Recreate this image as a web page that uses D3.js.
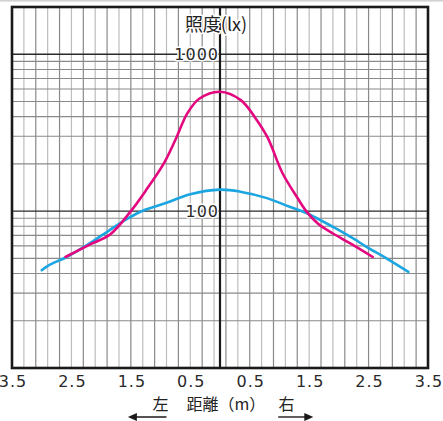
<!DOCTYPE html>
<html>
<head>
<meta charset="utf-8">
<script src="https://cdn.jsdelivr.net/npm/d3@7"></script>
<style>
    body { margin: 0; background: #fff; }
    .num { font-family: "DejaVu Sans", sans-serif; font-size: 16px; fill: #2a2a2a; letter-spacing: 1px; }
    .jp { font-family: "Noto Sans CJK JP", sans-serif; font-size: 16px; fill: #222; }
    .halo { paint-order: stroke; stroke: #fff; stroke-width: 3px; stroke-linejoin: round; }
</style>
</head>
<body>
<div id="chart"></div>
<script>
// distance (m, left negative) and illuminance (lx)
const pinkDist = [-2.6, -2.2, -1.85, -1.5, -1.25, -0.95, -0.75, -0.55, -0.35, 0, 0.35, 0.6, 0.8, 1.05, 1.3, 1.45, 1.65, 1.9, 2.2, 2.57];
const pinkLux  = [51, 61, 71, 100, 135, 200, 285, 420, 520, 577, 510, 390, 295, 175, 122, 100, 83, 72, 62, 51];

const blueDist = [-3.0, -2.89, -2.58, -2.2, -1.85, -1.57, -1.29, -0.9, -0.5, 0, 0.34, 0.79, 1.16, 1.46, 1.91, 2.24, 2.47, 2.8, 3.17];
const blueLux  = [42, 45, 51, 62, 76, 89, 101, 113, 128, 137, 133, 121, 107, 97, 79, 67, 59, 50, 41];

const xTicks = [-3.5, -2.5, -1.5, -0.5, 0.5, 1.5, 2.5, 3.5];
const yLabels = [100, 1000];

class LuxChart {
    constructor(_config) {
        this.config = {
            parentElement: _config.parentElement,
            containerWidth: _config.containerWidth || 443,
            containerHeight: _config.containerHeight || 421,
            margin: _config.margin || { top: 7, right: 15, bottom: 53, left: 12 }
        }
        this.initVis();
    }

    initVis() {
        let vis = this;

        vis.width = vis.config.containerWidth - vis.config.margin.left - vis.config.margin.right;
        vis.height = vis.config.containerHeight - vis.config.margin.top - vis.config.margin.bottom;

        vis.svg = d3.select(vis.config.parentElement).append('svg')
            .attr('width', vis.config.containerWidth)
            .attr('height', vis.config.containerHeight);

        // thin gray rule along the top of the page
        vis.svg.append('rect')
            .attr('x', 0).attr('y', 0)
            .attr('width', vis.config.containerWidth)
            .attr('height', 1.6)
            .attr('fill', '#d2d2d2');

        vis.xScale = d3.scaleLinear()
            .domain([-3.5, 3.5])
            .range([0, vis.width]);

        vis.yScale = d3.scaleLog()
            .domain([10, 2000])
            .range([vis.height, 0]);

        vis.chart = vis.svg.append('g')
            .attr('transform', `translate(${vis.config.margin.left},${vis.config.margin.top})`);

        vis.renderVis();
    }

    renderVis() {
        let vis = this;

        // vertical grid, every 0.2 m, alternating shade
        const vLines = d3.range(-33, 34, 2).map(d => d / 10);
        vis.chart.selectAll('.vgrid')
                .data(vLines)
            .join('line')
                .attr('class', 'vgrid')
                .attr('x1', d => vis.xScale(d))
                .attr('x2', d => vis.xScale(d))
                .attr('y1', 0)
                .attr('y2', vis.height)
                .attr('stroke', (d, i) => i % 2 ? '#8a8a8a' : '#bdbdbd')
                .attr('stroke-width', 1.2);

        // horizontal log grid
        const minor = d3.range(20, 100, 10).concat(d3.range(200, 1000, 100));
        vis.chart.selectAll('.hgrid')
                .data(minor)
            .join('line')
                .attr('class', 'hgrid')
                .attr('x1', 0)
                .attr('x2', vis.width)
                .attr('y1', d => vis.yScale(d))
                .attr('y2', d => vis.yScale(d))
                .attr('stroke', '#8a8a8a')
                .attr('stroke-width', 1.1);

        vis.chart.selectAll('.decade')
                .data(yLabels)
            .join('line')
                .attr('class', 'decade')
                .attr('x1', 0)
                .attr('x2', vis.width)
                .attr('y1', d => vis.yScale(d))
                .attr('y2', d => vis.yScale(d))
                .attr('stroke', '#2a2a2a')
                .attr('stroke-width', 1.4);

        // center axis
        vis.chart.append('line')
            .attr('x1', vis.xScale(0)).attr('x2', vis.xScale(0))
            .attr('y1', 0).attr('y2', vis.height)
            .attr('stroke', '#1a1a1a')
            .attr('stroke-width', 2.2);

        // curves
        const line = d3.line()
            .x(d => vis.xScale(d[0]))
            .y(d => vis.yScale(d[1]))
            .curve(d3.curveCatmullRom.alpha(0.5));

        vis.chart.append('path')
            .datum(d3.zip(blueDist, blueLux))
            .attr('fill', 'none')
            .attr('stroke', '#1ba6e2')
            .attr('stroke-width', 2.6)
            .attr('stroke-linecap', 'round')
            .attr('d', line);

        vis.chart.append('path')
            .datum(d3.zip(pinkDist, pinkLux))
            .attr('fill', 'none')
            .attr('stroke', '#e4087f')
            .attr('stroke-width', 2.6)
            .attr('stroke-linecap', 'round')
            .attr('d', line);

        // frame
        vis.chart.append('rect')
            .attr('x', 0).attr('y', 0)
            .attr('width', vis.width)
            .attr('height', vis.height)
            .attr('fill', 'none')
            .attr('stroke', '#1a1a1a')
            .attr('stroke-width', 2.6);

        // y labels on the center line
        vis.chart.selectAll('.ylabel')
                .data(yLabels)
            .join('text')
                .attr('class', 'ylabel num halo')
                .attr('x', vis.xScale(0) - 1)
                .attr('y', d => vis.yScale(d))
                .attr('dy', '0.36em')
                .attr('text-anchor', 'end')
                .text(d => d);

        vis.chart.append('text')
            .attr('class', 'jp halo')
            .attr('x', vis.xScale(0) - 4)
            .attr('y', 24)
            .attr('text-anchor', 'middle')
            .style('font-size', '18px')
            .text('照度(lx)');

        // x tick labels
        vis.chart.selectAll('.xlabel')
                .data(xTicks)
            .join('text')
                .attr('class', 'xlabel num')
                .attr('x', d => vis.xScale(d) + 1)
                .attr('y', vis.height + 19)
                .attr('text-anchor', 'middle')
                .text(d => Math.abs(d));

        // axis title with arrows
        const ty = vis.height + 42;
        vis.chart.append('text')
            .attr('class', 'jp')
            .attr('x', vis.xScale(-1.0))
            .attr('y', ty)
            .attr('text-anchor', 'middle')
            .text('左');
        vis.chart.append('text')
            .attr('class', 'jp')
            .attr('x', vis.xScale(0.1))
            .attr('y', ty)
            .attr('text-anchor', 'middle')
            .text('距離（m）');
        vis.chart.append('text')
            .attr('class', 'jp')
            .attr('x', vis.xScale(1.12))
            .attr('y', ty)
            .attr('text-anchor', 'middle')
            .text('右');

        const ay = vis.height + 49;
        const arrows = [[-0.9, -1.55], [0.98, 1.57]];
        arrows.forEach(([a, b]) => {
            const x1 = vis.xScale(a), x2 = vis.xScale(b);
            const dir = Math.sign(x2 - x1);
            vis.chart.append('line')
                .attr('x1', x1).attr('x2', x2 - dir * 6)
                .attr('y1', ay).attr('y2', ay)
                .attr('stroke', '#1a1a1a')
                .attr('stroke-width', 1.4);
            vis.chart.append('path')
                .attr('d', `M${x2},${ay} L${x2 - dir * 9},${ay - 4} L${x2 - dir * 9},${ay + 4} Z`)
                .attr('fill', '#1a1a1a');
        });
    }
}

new LuxChart({ parentElement: '#chart' });
</script>
</body>
</html>
